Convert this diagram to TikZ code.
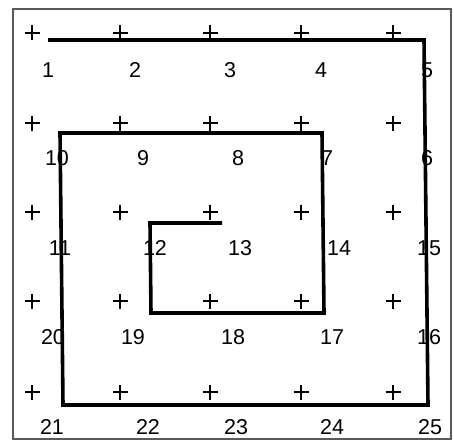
\documentclass[tikz,border=0pt]{standalone}
\usepackage{fontspec}
\setmainfont{Liberation Sans}
\begin{document}
\begin{tikzpicture}[x=1pt,y=-1pt,
  num/.style={font=\fontsize{21.5}{24}\selectfont,inner sep=0pt},
  plusmark/.style={line width=2pt}]
 \useasboundingbox (0,0) rectangle (454,441);
 \draw[line width=1.2pt,black!65] (13,9) rectangle (451,439);
 % grid marks
 \foreach \x in {32,120,210,301,393} {
   \foreach \y in {33,123,212,301,392} {
     \draw[plusmark] (\x-7.5,\y)--(\x+7.5,\y) (\x,\y-7.5)--(\x,\y+7.5);
   }
 }
 % cell numbers, one row at a time
 \foreach \a/\b/\c/\d/\e/\y/\xa/\xb/\xc/\xd/\xe in
   {1/2/3/4/5/70/48/135/230/321/427,
    10/9/8/7/6/158/57/143/238/327/427,
    11/12/13/14/15/248/60/155/240/339/429,
    20/19/18/17/16/337/53/133/233/332/429,
    21/22/23/24/25/427/52/148/236/332/430} {
   \node[num] (n\a) at (\xa,\y) {\a};
   \node[num] (n\b) at (\xb,\y) {\b};
   \node[num] (n\c) at (\xc,\y) {\c};
   \node[num] (n\d) at (\xd,\y) {\d};
   \node[num] (n\e) at (\xe,\y) {\e};
 }
 % spiral
 \draw[line width=3.6pt] (48,40)--(424,40)--(428,405)--(63,405)--(60,133)--(322,133)
   --(324,313)--(151,313)--(150,223)--(222,223);
\end{tikzpicture}
\end{document}
